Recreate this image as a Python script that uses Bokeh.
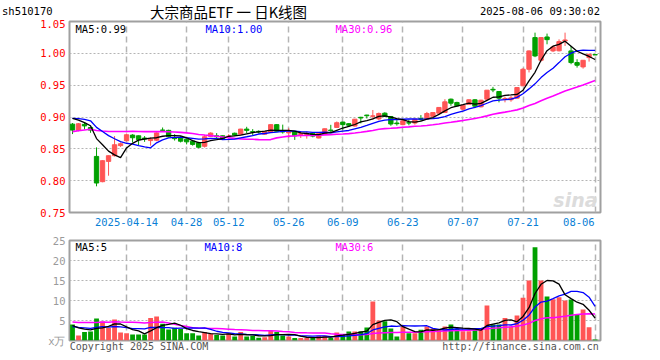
import numpy as np
import pandas as pd
from bokeh.plotting import figure
from bokeh.models import Range1d, FixedTicker, Label, ColumnDataSource, Div
from bokeh.layouts import column
from bokeh.embed import file_html
from bokeh.resources import INLINE

# ---------------- data ----------------
opens = [0.8888, 0.8789, 0.8885, 0.8836, 0.8381, 0.7984, 0.8303, 0.8392, 0.8550, 0.8627,
         0.8716, 0.8705, 0.8670, 0.8630, 0.8635, 0.8795, 0.8790, 0.8675, 0.8670, 0.8650,
         0.8620, 0.8595, 0.8540, 0.8695, 0.8705, 0.8705, 0.8690, 0.8745, 0.8730, 0.8810,
         0.8770, 0.8775, 0.8730, 0.8760, 0.8880, 0.8775, 0.8750, 0.8775, 0.8725, 0.8720,
         0.8745, 0.8670, 0.8730, 0.8795, 0.8836, 0.8920, 0.8895, 0.8858, 0.8995, 0.9030,
         0.9010, 0.8970, 0.9060, 0.9008, 0.8905, 0.8880, 0.8910, 0.8905, 0.8975, 0.8970,
         0.9010, 0.9060, 0.9070, 0.9280, 0.9228, 0.9123, 0.9200, 0.9270, 0.9160, 0.9280,
         0.9435, 0.9400, 0.9280, 0.9270, 0.9296, 0.9490, 0.9750, 1.0247, 0.9891, 1.0257,
         1.0038, 1.0040, 1.0195, 1.0038, 0.9855, 0.9787, 0.9933, 0.9980]
highs = [0.8905, 0.8905, 0.8914, 0.8850, 0.8523, 0.8320, 0.8395, 0.8700, 0.8600, 0.8740,
         0.8730, 0.8710, 0.8700, 0.8680, 0.8760, 0.8835, 0.8800, 0.8730, 0.8700, 0.8660,
         0.8640, 0.8610, 0.8720, 0.8760, 0.8747, 0.8710, 0.8730, 0.8755, 0.8815, 0.8846,
         0.8810, 0.8790, 0.8780, 0.8885, 0.8885, 0.8880, 0.8825, 0.8780, 0.8780, 0.8770,
         0.8760, 0.8750, 0.8820, 0.8877, 0.8930, 0.8925, 0.8905, 0.8970, 0.9003, 0.9035,
         0.9110, 0.9070, 0.9075, 0.9010, 0.8950, 0.8950, 0.8960, 0.8970, 0.9030, 0.9080,
         0.9075, 0.9155, 0.9280, 0.9290, 0.9240, 0.9190, 0.9275, 0.9280, 0.9270, 0.9425,
         0.9473, 0.9405, 0.9320, 0.9330, 0.9470, 0.9770, 1.0045, 1.0325, 1.0250, 1.0310,
         1.0120, 1.0220, 1.0325, 1.0116, 0.9907, 0.9895, 0.9990, 0.9980]
lows = [0.8732, 0.8775, 0.8804, 0.8752, 0.7911, 0.7975, 0.8078, 0.8380, 0.8530, 0.8620,
        0.8601, 0.8560, 0.8610, 0.8550, 0.8620, 0.8775, 0.8680, 0.8630, 0.8600, 0.8570,
        0.8550, 0.8510, 0.8520, 0.8690, 0.8653, 0.8650, 0.8660, 0.8700, 0.8725, 0.8747,
        0.8710, 0.8740, 0.8720, 0.8755, 0.8770, 0.8740, 0.8675, 0.8640, 0.8670, 0.8660,
        0.8680, 0.8665, 0.8725, 0.8757, 0.8830, 0.8800, 0.8845, 0.8850, 0.8900, 0.8977,
        0.8960, 0.8950, 0.9000, 0.8862, 0.8865, 0.8870, 0.8870, 0.8880, 0.8940, 0.8960,
        0.9000, 0.9055, 0.9065, 0.9176, 0.9165, 0.9110, 0.9195, 0.9140, 0.9150, 0.9275,
        0.9390, 0.9230, 0.9230, 0.9240, 0.9290, 0.9485, 0.9700, 0.9940, 0.9870, 1.0142,
        1.0020, 1.0030, 1.0116, 0.9829, 0.9776, 0.9760, 0.9870, 0.9975]
closes = [0.8794, 0.8894, 0.8860, 0.8794, 0.7963, 0.8314, 0.8392, 0.8564, 0.8580, 0.8721,
          0.8674, 0.8643, 0.8655, 0.8650, 0.8750, 0.8790, 0.8690, 0.8660, 0.8620, 0.8610,
          0.8570, 0.8525, 0.8690, 0.8747, 0.8690, 0.8660, 0.8700, 0.8715, 0.8810, 0.8790,
          0.8760, 0.8765, 0.8770, 0.8880, 0.8775, 0.8765, 0.8765, 0.8705, 0.8740, 0.8730,
          0.8700, 0.8745, 0.8815, 0.8785, 0.8910, 0.8880, 0.8870, 0.8966, 0.8985, 0.9020,
          0.9018, 0.9055, 0.9010, 0.8890, 0.8895, 0.8940, 0.8905, 0.8965, 0.8965, 0.9055,
          0.9070, 0.9150, 0.9238, 0.9217, 0.9176, 0.9186, 0.9270, 0.9170, 0.9264, 0.9421,
          0.9425, 0.9296, 0.9290, 0.9300, 0.9463, 0.9750, 1.0038, 0.9959, 1.0247, 1.0215,
          1.0100, 1.0184, 1.0210, 0.9855, 0.9813, 0.9891, 0.9985, 0.9975]
volumes = [4.0, 1.25, 2.1, 2.25, 5.5, 4.75, 3.1, 5.25, 2.0, 1.83,
           1.5, 1.5, 1.5, 5.6, 6.0, 4.2, 2.75, 3.2, 2.9, 1.83,
           1.83, 1.25, 2.1, 1.67, 1.4, 1.25, 1.83, 1.0, 2.1, 1.0,
           1.17, 0.67, 0.83, 2.5, 2.1, 1.25, 1.0, 0.6, 0.6, 0.6,
           0.67, 1.17, 1.17, 0.67, 2.0, 1.6, 2.25, 2.25, 2.3, 3.25,
           9.75, 5.0, 4.8, 3.0, 1.0, 3.5, 1.8, 1.8, 2.7, 3.5,
           3.0, 2.7, 3.5, 4.0, 2.9, 2.3, 2.3, 2.7, 2.7, 8.75,
           4.0, 4.0, 5.6, 3.5, 6.25, 10.7, 15.0, 23.3, 15.0, 11.0,
           10.3, 10.8, 10.0, 10.25, 6.5, 7.75, 3.3, 0.25]
# sessions before the first visible day (estimated from where the MA lines start)
prior_close = [0.846, 0.851, 0.848, 0.855, 0.853, 0.859, 0.862, 0.858, 0.866, 0.864,
               0.869, 0.872, 0.867, 0.874, 0.878, 0.875, 0.881, 0.879, 0.884, 0.889,
               0.893, 0.899, 0.902, 0.900, 0.896, 0.904, 0.905, 0.904, 0.897]
prior_vol = [3.5, 2.8, 3.1, 4.0, 2.6, 3.3, 2.9, 3.6, 3.0, 2.7, 3.4, 3.8, 2.9, 3.2, 3.5,
             9.5, 12.8, 11.6, 10.2, 10.6, 3.6, 3.1, 3.4, 2.95, 3.2, 4.2, 3.73, 3.07, 3.75]
tick_idx = [9, 19, 26, 36, 45, 55, 65, 75, 87]
tick_labels = ["2025-04-14", "04-28", "05-12", "05-26", "06-09", "06-23", "07-07", "07-21", "08-06"]
price_ticks = [0.75, 0.80, 0.85, 0.90, 0.95, 1.00, 1.05]
vol_ticks = [0, 5, 10, 15, 20, 25]
vol_tick_labels = ["x万", "5", "10", "15", "20", "25"]
footer_texts = ["Copyright 2025 SINA.COM", "http://finance.sina.com.cn"]
symbol = "sh510170"
title = "大宗商品ETF 一 日K线图"
stamp = "2025-08-06 09:30:02"

# ---------------- derived ----------------
n = len(closes)
x = np.arange(n)
UP, DOWN = "#ff5555", "#00a000"
colors = [UP if c >= o else DOWN for o, c in zip(opens, closes)]
cs = pd.Series(prior_close + closes)
vs = pd.Series(prior_vol + volumes)
ma = {w: cs.rolling(w).mean().to_numpy()[-n:] for w in (5, 10, 30)}
vma = {w: vs.rolling(w).mean().to_numpy()[-n:] for w in (5, 10, 30)}

src = ColumnDataSource(dict(x=x, o=opens, h=highs, l=lows, c=closes,
                            top=np.maximum(opens, closes), bot=np.minimum(opens, closes),
                            v=volumes, col=colors))

MONO = "DejaVu Sans Mono"
FS = "10.5px"
GRID = "#b4b4b4"
BORDER = "#a0a0a0"
W = 640
XR = (-0.5, 87.9)

# date labels: last one kept inside the frame
label_pos = list(tick_idx[:-1]) + [tick_idx[-1] - 2.7]
footer_pos = [11.07, 74.6]


def base(height, top, bottom, yr):
    p = figure(width=W, height=height, x_range=Range1d(*XR), y_range=yr,
               output_backend="svg", toolbar_location=None,
               min_border_left=69, min_border_right=W - 69 - 531,
               min_border_top=top, min_border_bottom=bottom)
    p.outline_line_color = BORDER
    p.outline_line_width = 2
    p.background_fill_color = "white"
    p.border_fill_color = "white"
    p.xgrid.ticker = FixedTicker(ticks=tick_idx)
    p.xgrid.grid_line_color = GRID
    p.xgrid.grid_line_dash = "6 4"
    p.xgrid.grid_line_width = 1.5
    p.ygrid.grid_line_color = GRID
    p.ygrid.grid_line_dash = "2 2"
    p.ygrid.grid_line_width = 1
    for ax in (p.xaxis[0], p.yaxis[0]):
        ax.axis_line_color = None
        ax.major_tick_line_color = None
        ax.minor_tick_line_color = None
        ax.major_label_text_font = MONO
        ax.major_label_text_font_size = FS
    return p


def lbl(p, sx, sy, text, color="black", align="left", font=MONO, size=FS, style="normal"):
    p.add_layout(Label(x=sx, y=sy, x_units="screen", y_units="screen", text=text,
                       text_color=color, text_align=align, text_baseline="middle",
                       text_font=font, text_font_size=size, text_font_style=style))


# ---------------- header strip ----------------
span = "position:absolute;white-space:nowrap;line-height:13px;"
mono = "font-family:'DejaVu Sans Mono';font-size:10.5px;color:#000;"
hd = Div(width=W, height=19, margin=(0, 0, 0, 0), text=(
    f'<div style="position:relative;width:{W}px;height:19px;">'
    f'<span style="{span}{mono}left:2px;top:5px;">{symbol}</span>'
    f'<span style="{span}font-family:\'Noto Sans CJK SC\';font-size:14.5px;line-height:16px;'
    f'color:#000;left:150px;top:4px;">{title}</span>'
    f'<span style="{span}{mono}right:{W - 600}px;top:5px;">{stamp}</span>'
    '</div>'))

# ---------------- price chart ----------------
p1 = base(213, 2, 20, Range1d(0.75, 1.05))
p1.yaxis.ticker = FixedTicker(ticks=price_ticks)
p1.yaxis.major_label_overrides = {t: f"{t:.2f}" for t in price_ticks}
p1.yaxis.major_label_text_color = "#ff0000"
p1.yaxis.major_label_standoff = -2
p1.ygrid.ticker = FixedTicker(ticks=price_ticks[1:-1])
p1.xaxis.ticker = FixedTicker(ticks=label_pos)
p1.xaxis.major_label_overrides = {pos: t for pos, t in zip(label_pos, tick_labels)}
p1.xaxis.major_label_text_color = "#0a7fd6"
p1.xaxis.major_label_standoff = -1

p1.segment("x", "h", "x", "l", color="col", line_width=1, source=src)
p1.vbar(x="x", top="top", bottom="bot", width=0.72, fill_color="col", line_color="col",
        line_width=1, source=src)
p1.line(x, ma[30], color="#ff00ff", line_width=1.6)
p1.line(x, ma[10], color="#0000ff", line_width=1.3)
p1.line(x, ma[5], color="#000000", line_width=1.3)

lbl(p1, 6, 184, "MA5:%.2f" % ma[5][-1])
lbl(p1, 136, 184, "MA10:%.2f" % ma[10][-1], color="#0000ff")
lbl(p1, 266, 184, "MA30:%.2f" % ma[30][-1], color="#ff00ff")
lbl(p1, 528, 13, "sina", color="#dcdcdc", size="19px", font="DejaVu Sans",
    style="bold italic", align="right")

# ---------------- volume chart ----------------
p2 = base(127, 8, 19, Range1d(0, 25))
p2.yaxis.ticker = FixedTicker(ticks=vol_ticks)
p2.yaxis.major_label_overrides = dict(zip(vol_ticks, vol_tick_labels))
p2.yaxis.major_label_text_color = "#9a9a9a"
p2.yaxis.major_label_standoff = -2
p2.ygrid.ticker = FixedTicker(ticks=vol_ticks[1:-1])
p2.xaxis.ticker = FixedTicker(ticks=footer_pos)
p2.xaxis.major_label_overrides = dict(zip(footer_pos, footer_texts))
p2.xaxis.major_label_text_color = "#555555"
p2.xaxis.major_label_text_font_size = "10px"
p2.xaxis.major_label_standoff = -6

p2.vbar(x="x", top="v", bottom=0, width=0.8, fill_color="col", line_color=None, source=src)
p2.line(x, vma[30], color="#ff00ff", line_width=1.5)
p2.line(x, vma[10], color="#0000ff", line_width=1.3)
p2.line(x, vma[5], color="#000000", line_width=1.3)

lbl(p2, 6, 94, "MA5:%d" % int(vma[5][-1]))
lbl(p2, 135, 94, "MA10:%d" % int(vma[10][-1]), color="#0000ff")
lbl(p2, 266, 94, "MA30:%d" % int(vma[30][-1]), color="#ff00ff")

layout = column(hd, p1, p2, spacing=0)
open("out.html", "w").write(file_html(layout, INLINE))
